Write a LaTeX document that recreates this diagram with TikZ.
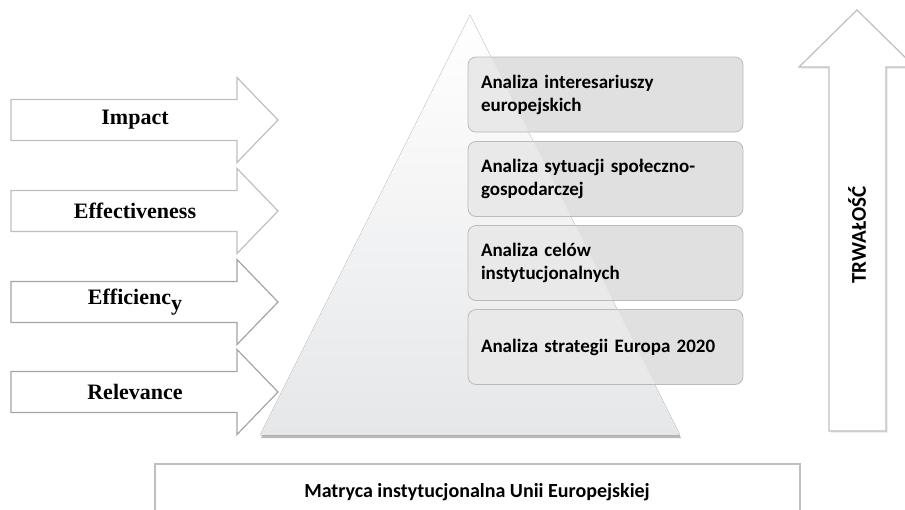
\documentclass[tikz,border=0pt]{standalone}
\usepackage{fontspec}
\setmainfont{Liberation Serif}
\newfontfamily\calibri{Carlito}
\usetikzlibrary{shadows}

\definecolor{arrowlight}{HTML}{BFBFBF}
\definecolor{arrowdark}{HTML}{A5A5A5}
\definecolor{boxdark}{HTML}{E0E0E0}
\definecolor{boxlight}{HTML}{E9E9EA}
\definecolor{boxline}{HTML}{BBBBBB}
\definecolor{pyrbottom}{HTML}{E6E7E9}

\begin{document}
\begin{tikzpicture}[x=1pt,y=-1pt,
    evallabel/.style={font=\bfseries\fontsize{22}{26}\selectfont},
    infobox/.style={draw=boxline, line width=0.8pt, fill=boxdark, rounded corners=8pt,
      minimum width=275pt, minimum height=75pt, inner xsep=13pt, text width=249pt,
      align=left, font=\calibri\bfseries\fontsize{19}{23}\selectfont,
      path picture={\fill[boxlight] (apex) -- (baseR) -- (baseL) -- cycle;}}]
    \useasboundingbox (0,0) rectangle (905,509);

    % pyramid
    \coordinate (apex) at (470,15);
    \coordinate (baseR) at (680,435);
    \coordinate (baseL) at (260,435);
    \fill [top color=white, bottom color=pyrbottom, draw=black!12,
      drop shadow={shadow xshift=1pt, shadow yshift=-3pt, opacity=0.55}]
      (apex) -- (baseR) -- (baseL) -- cycle;

    % evaluation arrows
    \foreach \c/\lab/\col [count=\i] in {120/Impact/arrowlight,
        211/Effectiveness/arrowlight,
        302/Efficienc\raisebox{-0.3em}{y}/arrowdark,
        392/Relevance/arrowdark} {
      \draw [\col, line width=1.2pt, fill=white]
        (11,\c-20.5) -- (237,\c-20.5) -- (237,\c-42.5) -- (278,\c)
        -- (237,\c+42.5) -- (237,\c+20.5) -- (11,\c+20.5) -- cycle;
      \node [evallabel] (lab\i) at (135,\c) {\lab};
    }

    % analysis boxes
    \node [infobox] (box1) at (605.5,94.5) {Analiza interesariuszy\\europejskich};
    \node [infobox] (box2) at (605.5,179) {Analiza sytuacji społeczno-\\gospodarczej};
    \node [infobox] (box3) at (605.5,263) {Analiza celów\\instytucjonalnych};
    \node [infobox] (box4) at (605.5,347) {Analiza strategii Europa 2020};

    % durability arrow
    \draw [arrowlight, line width=1.2pt, fill=white,
      drop shadow={shadow xshift=1.5pt, shadow yshift=-1.5pt, opacity=0.2}]
      (829,431) -- (829,67) -- (799,67) -- (857,10) -- (915,67)
      -- (886,67) -- (886,431) -- cycle;
    \node [rotate=90, font=\calibri\bfseries\fontsize{21}{24}\selectfont] (trw) at (857,235) {TRWAŁOŚĆ};

    % institutional matrix
    \draw [arrowlight, line width=1.2pt, fill=white] (155,520) -- (155,464) -- (800,464) -- (800,520);
    \node [font=\calibri\bfseries\fontsize{20}{24}\selectfont] (matrix) at (477,492)
      {Matryca instytucjonalna Unii Europejskiej};
\end{tikzpicture}
\end{document}
